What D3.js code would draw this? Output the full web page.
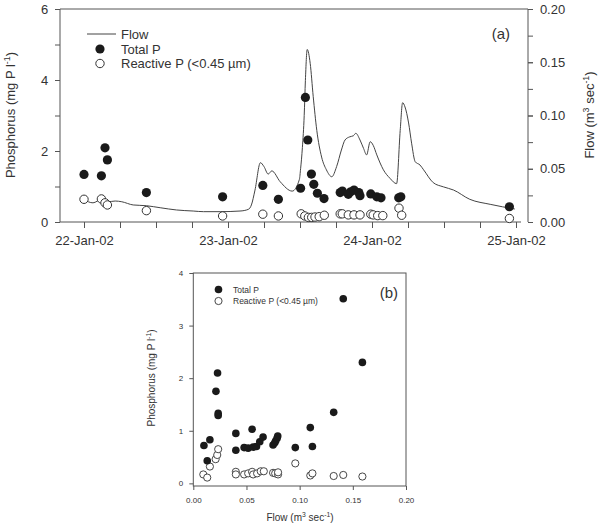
<!DOCTYPE html>
<html><head><meta charset="utf-8">
<script src="https://cdn.jsdelivr.net/npm/d3@7"></script>
<style>body{margin:0;background:#fff}svg{display:block}text{font-family:"Liberation Sans",Arial,sans-serif}</style>
</head><body>
<svg id="c" width="604" height="527"></svg>
<script>
// ---- Data (hours from 22-Jan-02 00:00) ----
const flowHours = [0,1.5,2.9,4,5.2,6.3,8.2,10.4,12.7,15.4,18.2,19.9,22.7,26,27.4,27.9,28.5,29.4,30,30.7,31.3,32.7,34.7,35.9,36.1,36.4,36.7,36.9,37.2,37.7,38.2,38.8,39.6,40.4,41.3,42.1,42.9,43.5,44.3,44.9,45.3,46,46.6,47.1,47.7,48.2,48.8,49.9,51,52.1,52.7,53.1,53.5,54.1,54.6,55.2,56,56.6,58.2,59.9,61.6,64.3,67.7,71.8];
const flowValues = [0.021,0.018,0.0213,0.019,0.0197,0.019,0.016,0.0153,0.0134,0.0113,0.0103,0.0097,0.0097,0.0103,0.0119,0.016,0.030,0.0557,0.052,0.045,0.048,0.0378,0.029,0.040,0.05,0.07,0.10,0.133,0.162,0.149,0.118,0.086,0.061,0.049,0.0425,0.052,0.0676,0.077,0.080,0.081,0.0833,0.077,0.069,0.063,0.0754,0.072,0.063,0.049,0.041,0.036,0.086,0.112,0.108,0.093,0.074,0.0566,0.0535,0.049,0.037,0.033,0.030,0.0213,0.0166,0.0122];
const tpHours = [0,2.9,3.5,3.9,10.4,23.1,29.8,32.4,36.1,36.9,37.3,37.9,38.3,38.9,40.0,42.7,43.05,44.05,44.45,45.0,45.8,46.0,47.8,48.8,49.5,52.45,52.8,70.9];
const tpValues = [1.34,1.30,2.09,1.75,0.83,0.71,1.03,0.64,0.95,3.51,2.31,1.35,1.06,0.81,0.66,0.83,0.87,0.78,0.85,0.90,0.83,0.74,0.79,0.71,0.68,0.68,0.71,0.43];
const rpHours = [0,2.9,3.5,3.9,10.4,23.1,29.8,32.4,36.2,36.8,37.4,37.95,38.5,39.2,40.05,42.7,43.05,44.05,45.0,46.0,47.8,48.2,48.95,49.8,52.5,52.95,70.9];
const rpValues = [0.64,0.65,0.54,0.48,0.32,0.17,0.22,0.17,0.23,0.17,0.13,0.13,0.14,0.15,0.19,0.23,0.23,0.20,0.20,0.20,0.22,0.20,0.18,0.18,0.39,0.19,0.10];
const dateTickHours = [0,24,48,72];
const dateTickLabels = ["22-Jan-02","23-Jan-02","24-Jan-02","25-Jan-02"];
const pTicksA = [0,2,4,6];
const flowTicksA = [0,0.05,0.10,0.15,0.20];
// scatter (b)
const sTpFlow = [0.0100,0.0131,0.0156,0.0213,0.0228,0.0234,0.0234,0.040,0.040,0.0478,0.0516,0.0553,0.0563,0.0594,0.0625,0.0656,0.075,0.0766,0.0775,0.0788,0.0794,0.0959,0.110,0.112,0.132,0.141,0.159];
const sTpP = [0.72,0.43,0.83,1.75,2.10,1.33,1.29,0.95,0.63,0.68,0.67,1.03,0.69,0.70,0.79,0.88,0.73,0.77,0.81,0.86,0.90,0.68,1.06,0.70,1.35,3.51,2.30];
const sRpFlow = [0.0094,0.0131,0.0156,0.021,0.0225,0.0234,0.040,0.040,0.0478,0.0516,0.0553,0.0563,0.060,0.0634,0.0663,0.075,0.077,0.0797,0.0797,0.0959,0.110,0.112,0.132,0.141,0.159];
const sRpP = [0.17,0.11,0.32,0.46,0.54,0.65,0.22,0.17,0.17,0.19,0.22,0.17,0.19,0.23,0.23,0.20,0.19,0.17,0.21,0.38,0.15,0.19,0.14,0.16,0.13];
const flowTicksB = [0,0.05,0.10,0.15,0.20];
const pTicksB = [0,1,2,3,4];

const svg = d3.select("#c");
const AX = "#555", TX = "#333";

// ---------- Panel (a) ----------
const ax = d3.scaleLinear().domain([-4,74]).range([60,528]);
const ayP = d3.scaleLinear().domain([0,6]).range([222,9]);
const ayF = d3.scaleLinear().domain([0,0.2]).range([222,9]);
const ga = svg.append("g");

ga.append("line").attr("x1",60).attr("x2",528).attr("y1",9).attr("y2",9).attr("stroke",AX);

// bottom axis: minor ticks every 6 h, labels at day ticks
const gxm = ga.append("g").attr("transform","translate(0,222)").call(d3.axisBottom(ax).tickValues(d3.range(0,73,6)).tickSize(6).tickFormat(""));
gxm.select(".domain").attr("d","M60,0H521");
gxm.selectAll("path,line").attr("stroke",AX);
gxm.selectAll("text").remove();
const gx = ga.append("g").attr("transform","translate(0,222)").call(d3.axisBottom(ax).tickValues(dateTickHours).tickSize(6).tickFormat((d,i)=>dateTickLabels[i]));
gx.select(".domain").remove();
gx.selectAll("line").attr("stroke",AX);
gx.selectAll("text").attr("fill",TX).attr("font-size",13).attr("dy","1.05em");

// left axis
const gylm = ga.append("g").attr("transform","translate(60,0)").call(d3.axisLeft(ayP).tickValues(d3.range(0,7,1)).tickSize(5).tickFormat(""));
gylm.selectAll("path,line").attr("stroke",AX);
gylm.select(".domain").attr("d","M0,9V222");
gylm.selectAll("text").remove();
const gyl = ga.append("g").attr("transform","translate(60,0)").call(d3.axisLeft(ayP).tickValues(pTicksA).tickSize(5).tickFormat(d3.format("d")));
gyl.select(".domain").remove();
gyl.selectAll("line").attr("stroke",AX);
gyl.selectAll("text").attr("fill",TX).attr("font-size",13).attr("dx","-0.3em");

// right axis
const gyrm = ga.append("g").attr("transform","translate(528,0)").call(d3.axisRight(ayF).tickValues(d3.range(0,0.2001,0.025)).tickSize(5).tickFormat(""));
gyrm.selectAll("path,line").attr("stroke",AX);
gyrm.select(".domain").attr("d","M0,9V222");
gyrm.selectAll("text").remove();
const gyr = ga.append("g").attr("transform","translate(528,0)").call(d3.axisRight(ayF).tickValues(flowTicksA).tickSize(5).tickFormat(d3.format(".2f")));
gyr.select(".domain").remove();
gyr.selectAll("line").attr("stroke",AX);
gyr.selectAll("text").attr("fill",TX).attr("font-size",13).attr("dx","0.3em");

// flow line
const flowData = flowHours.map((h,i)=>[h,flowValues[i]]);
ga.append("path").datum(flowData).attr("fill","none").attr("stroke","#444").attr("stroke-width",1)
  .attr("d",d3.line().x(d=>ax(d[0])).y(d=>ayF(d[1])).curve(d3.curveMonotoneX));

ga.selectAll("circle.rp").data(rpHours.map((h,i)=>[h,rpValues[i]])).join("circle").attr("class","rp")
  .attr("cx",d=>ax(d[0])).attr("cy",d=>ayP(d[1])).attr("r",4.2).attr("fill","#fff").attr("stroke","#333").attr("stroke-width",1);
ga.selectAll("circle.tp").data(tpHours.map((h,i)=>[h,tpValues[i]])).join("circle").attr("class","tp")
  .attr("cx",d=>ax(d[0])).attr("cy",d=>ayP(d[1])).attr("r",4.6).attr("fill","#1a1a1a");

// legend a
ga.append("line").attr("x1",87).attr("x2",116).attr("y1",34).attr("y2",34).attr("stroke","#444");
ga.append("circle").attr("cx",100).attr("cy",49).attr("r",4.6).attr("fill","#1a1a1a");
ga.append("circle").attr("cx",100).attr("cy",63.5).attr("r",4.2).attr("fill","#fff").attr("stroke","#333");
[["Flow",34],["Total P",49],["Reactive P (<0.45 µm)",63.5]].forEach(([t,y])=>{
  ga.append("text").attr("x",121).attr("y",y).attr("dy","0.36em").attr("font-size",13).attr("fill",TX).text(t);
});
ga.append("text").attr("x",510).attr("y",34).attr("dy","0.36em").attr("text-anchor","end").attr("font-size",15).attr("fill",TX).text("(a)");

// axis titles with superscripts
function supTitle(g,x,y,rot,parts,fs){
  const t=g.append("text").attr("transform",`translate(${x},${y}) rotate(${rot})`).attr("text-anchor","middle").attr("font-size",fs).attr("fill",TX);
  let up=false;
  parts.forEach(([s,sup])=>{
    const sp=t.append("tspan").text(s);
    if(sup){sp.attr("font-size",fs*0.68); if(!up){sp.attr("dy",-fs*0.4);up=true;}}
    else if(up){sp.attr("dy",fs*0.4);up=false;}
  });
  return t;
}
supTitle(ga,15,115,-90,[["Phosphorus (mg P l"],["-1",true],[")"]],13);
supTitle(ga,594,115,-90,[["Flow (m"],["3",true],[" sec"],["-1",true],[")"]],13);

// ---------- Panel (b) ----------
const bx = d3.scaleLinear().domain([0,0.2]).range([193.3,406]);
const by = d3.scaleLinear().domain([-0.05,4]).range([486,273]);
const gb = svg.append("g");
gb.append("rect").attr("x",193.3).attr("y",273).attr("width",406-193.3).attr("height",486-273).attr("fill","none").attr("stroke",AX);
const bxa = gb.append("g").attr("transform","translate(0,486)").call(d3.axisBottom(bx).tickValues(flowTicksB).tickSize(4).tickFormat(d3.format(".2f")));
bxa.select(".domain").remove();
bxa.selectAll("line").attr("stroke",AX);
bxa.selectAll("text").attr("fill",TX).attr("font-size",8).attr("dy","1.2em");
const bya = gb.append("g").attr("transform","translate(193.3,0)").call(d3.axisLeft(by).tickValues(pTicksB).tickSize(4).tickFormat(d3.format("d")));
bya.select(".domain").remove();
bya.selectAll("line").attr("stroke",AX);
bya.selectAll("text").attr("fill",TX).attr("font-size",8).attr("dx","-0.4em");

gb.selectAll("circle.rp").data(sRpFlow.map((f,i)=>[f,sRpP[i]])).join("circle").attr("class","rp")
  .attr("cx",d=>bx(d[0])).attr("cy",d=>by(d[1])).attr("r",3.6).attr("fill","#fff").attr("stroke","#333").attr("stroke-width",0.9);
gb.selectAll("circle.tp").data(sTpFlow.map((f,i)=>[f,sTpP[i]])).join("circle").attr("class","tp")
  .attr("cx",d=>bx(d[0])).attr("cy",d=>by(d[1])).attr("r",3.8).attr("fill","#1a1a1a");

gb.append("circle").attr("cx",218.5).attr("cy",289.5).attr("r",3.8).attr("fill","#1a1a1a");
gb.append("circle").attr("cx",218.5).attr("cy",301).attr("r",3.6).attr("fill","#fff").attr("stroke","#333").attr("stroke-width",0.9);
[["Total P",289.5],["Reactive P (<0.45 µm)",301]].forEach(([t,y])=>{
  gb.append("text").attr("x",233).attr("y",y).attr("dy","0.36em").attr("font-size",8.5).attr("fill",TX).text(t);
});
gb.append("text").attr("x",398).attr("y",293).attr("dy","0.36em").attr("text-anchor","end").attr("font-size",15).attr("fill",TX).text("(b)");

supTitle(gb,155,378,-90,[["Phosphorus (mg P l"],["-1",true],[")"]],10);
supTitle(gb,300,521,0,[["Flow (m"],["3",true],[" sec"],["-1",true],[")"]],10);
</script>
</body></html>
